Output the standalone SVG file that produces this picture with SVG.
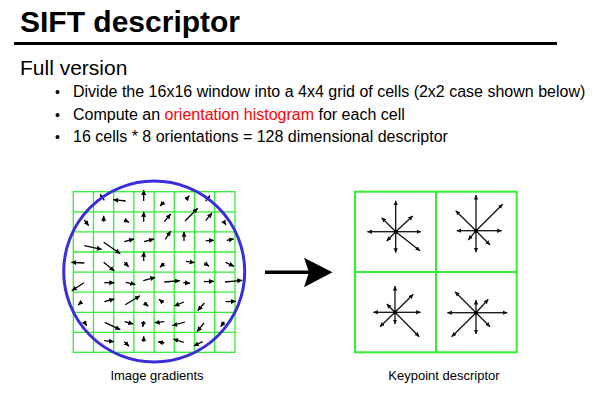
<svg xmlns="http://www.w3.org/2000/svg" width="597" height="403" viewBox="0 0 597 403">
<style>
.t{font-family:"Liberation Sans",Arial,sans-serif;fill:#000}
.g{stroke:#33ee33;fill:none}
.a{stroke:#000;stroke-width:1.3;fill:none;marker-end:url(#h)}
.d{stroke:#111;stroke-width:1.3;fill:none;marker-end:url(#h2)}
</style>
<defs>
<marker id="h" markerUnits="userSpaceOnUse" markerWidth="6" markerHeight="6" refX="5" refY="2.5" orient="auto"><path d="M0,0 L5,2.5 L0,5 z" fill="#000"/></marker>
<marker id="h2" markerUnits="userSpaceOnUse" markerWidth="6" markerHeight="6" refX="4.5" refY="2.25" orient="auto"><path d="M0,0 L4.5,2.25 L0,4.5 z" fill="#111"/></marker>
</defs>
<g id="title">
<text class="t" x="20" y="32" font-size="30" font-weight="bold">SIFT descriptor</text>
<line x1="14" y1="43.5" x2="557" y2="43.5" stroke="#000" stroke-width="3"/>
</g>
<g id="body">
<text class="t" x="20" y="75" font-size="21">Full version</text>
<text class="t" x="55" y="97" font-size="14">•</text>
<text class="t" x="73" y="97" font-size="16">Divide the 16x16 window into a 4x4 grid of cells (2x2 case shown below)</text>
<text class="t" x="55" y="120" font-size="14">•</text>
<text class="t" x="73" y="120" font-size="16">Compute an <tspan fill="#ff0000">orientation histogram</tspan> for each cell</text>
<text class="t" x="55" y="142" font-size="14">•</text>
<text class="t" x="73" y="142" font-size="16">16 cells * 8 orientations = 128 dimensional descriptor</text>
</g>
<g id="gradients">
<g class="g" stroke-width="1.3">
<rect x="73.3" y="191.7" width="161.7" height="160.6"/>
<path d="M93.5,191.7V352.3M113.7,191.7V352.3M133.9,191.7V352.3M154.1,191.7V352.3M174.3,191.7V352.3M194.5,191.7V352.3M214.7,191.7V352.3"/>
<path d="M73.3,211.8H235M73.3,231.9H235M73.3,252H235M73.3,272.1H235M73.3,292.2H235M73.3,312.3H235M73.3,332.3H235"/>
</g>
<g>
<path class="a" d="M104.3,200.3L100,194.3"/>
<path class="a" d="M125.7,201L113.3,199.7"/>
<path class="a" d="M143.7,201L143.7,190"/>
<path class="a" d="M164,201.7L160,206"/>
<path class="a" d="M186,199.7L189.3,195.7"/>
<path class="a" d="M205.7,201L210,195.7"/>
<path class="a" d="M84.3,220L88.7,225.7"/>
<path class="a" d="M103.7,221.7L103.7,215.7"/>
<path class="a" d="M124.3,220L129,222.3"/>
<path class="a" d="M143.7,221.7L143.7,211.7"/>
<path class="a" d="M164.3,221.7L170.7,214"/>
<path class="a" d="M185,221L197.7,208.3"/>
<path class="a" d="M205.7,220.7L212,213"/>
<path class="a" d="M223.3,221L226,225"/>
<path class="a" d="M84.3,245.7L101.7,249.3"/>
<path class="a" d="M103.7,242.3L120.3,253.7"/>
<path class="a" d="M124.3,241.7L134,239"/>
<path class="a" d="M144,241.7L154,239"/>
<path class="a" d="M165.3,239.3L170.7,231"/>
<path class="a" d="M184,241L184,231.7"/>
<path class="a" d="M205.7,240.7L214,240.3"/>
<path class="a" d="M226.7,240.3L233.7,239"/>
<path class="a" d="M84.3,263L71.3,262.3"/>
<path class="a" d="M103.7,262.3L114.3,271"/>
<path class="a" d="M124.3,262.3L128.7,266.7"/>
<path class="a" d="M143.7,261L143.7,251.7"/>
<path class="a" d="M164.3,263.3L160,267.3"/>
<path class="a" d="M186,261.3L194.7,262.7"/>
<path class="a" d="M204.3,262.7L209,266.3"/>
<path class="a" d="M225.7,262.3L234,266.3"/>
<path class="a" d="M84,282.7L71.7,290.7"/>
<path class="a" d="M104.3,282.7L114.3,282.7"/>
<path class="a" d="M125.7,282.3L135.3,284.3"/>
<path class="a" d="M143.3,280.7L155.3,277.3"/>
<path class="a" d="M164.3,282L180,280.7"/>
<path class="a" d="M183.3,282.7L190,283.3"/>
<path class="a" d="M204,281.7L214,281.3"/>
<path class="a" d="M225,282L242.3,280.3"/>
<path class="a" d="M82,301.7L78,305"/>
<path class="a" d="M104.3,301.7L114.3,299"/>
<path class="a" d="M125.3,304.7L140,295.7"/>
<path class="a" d="M144,302.7L148.3,306.3"/>
<path class="a" d="M163.3,302.7L159,299.3"/>
<path class="a" d="M184,302L174.3,306"/>
<path class="a" d="M204.3,303L197.7,310.7"/>
<path class="a" d="M225.7,301.7L236,301.3"/>
<path class="a" d="M84.3,322L86.7,325.7"/>
<path class="a" d="M104.7,322.3L120.3,329.7"/>
<path class="a" d="M124.7,321.7L133.3,324"/>
<path class="a" d="M143.7,321L142.7,327"/>
<path class="a" d="M164.3,321.7L154.7,322.7"/>
<path class="a" d="M185,322L172.3,325.7"/>
<path class="a" d="M204,323L197,331.7"/>
<path class="a" d="M224.3,321.7L220.7,326.7"/>
<path class="a" d="M104.3,340.7L114,341.7"/>
<path class="a" d="M124.3,341.7L129,346.3"/>
<path class="a" d="M143.7,341.7L143.7,336.3"/>
<path class="a" d="M164.3,343L158,341.7"/>
<path class="a" d="M183.7,342.3L173.3,339"/>
<path class="a" d="M202.7,341.7L193.7,346"/>
</g>
<circle cx="154.2" cy="271.5" r="90.5" fill="none" stroke="#3a2fd6" stroke-width="3"/>
<text class="t" x="157" y="380" font-size="13" text-anchor="middle">Image gradients</text>
</g>
<g id="connectors">
<line x1="265" y1="272.3" x2="310" y2="272.3" stroke="#000" stroke-width="3.5"/>
<path d="M332.5,272.3L304,257.7L309,272.3L304,287.3z" fill="#000"/>
</g>
<g id="descriptor">
<g class="g" stroke-width="2">
<rect x="355" y="191.7" width="161.7" height="160.6"/>
<path d="M436,191.7V352.3M355,272H516.7"/>
</g>
<g>
<path class="d" d="M395.7,231.7L395.7,200.7"/>
<path class="d" d="M395.7,231.7L395.7,252.7"/>
<path class="d" d="M395.7,231.7L367.3,231.7"/>
<path class="d" d="M395.7,231.7L421,231.7"/>
<path class="d" d="M395.7,231.7L412.7,216"/>
<path class="d" d="M395.7,231.7L381.7,217.7"/>
<path class="d" d="M395.7,231.7L386.7,241"/>
<path class="d" d="M395.7,231.7L420,250.7"/>
<circle cx="395.7" cy="231.7" r="2"/>
<path class="d" d="M476,230.7L476,195"/>
<path class="d" d="M476,230.7L476,252.3"/>
<path class="d" d="M476,230.7L456.7,230.7"/>
<path class="d" d="M476,230.7L501.7,230.7"/>
<path class="d" d="M476,230.7L502.7,204.3"/>
<path class="d" d="M476,230.7L455.7,210.7"/>
<path class="d" d="M476,230.7L468.3,240"/>
<path class="d" d="M476,230.7L490,245"/>
<circle cx="476" cy="230.7" r="2"/>
<path class="d" d="M395,312.3L395,286"/>
<path class="d" d="M395,312.3L395,324"/>
<path class="d" d="M395,312.3L373.3,312.3"/>
<path class="d" d="M395,312.3L420.7,312.3"/>
<path class="d" d="M395,312.3L413.3,294.3"/>
<path class="d" d="M395,312.3L386.7,304"/>
<path class="d" d="M395,312.3L380,326.7"/>
<path class="d" d="M395,312.3L419.3,336.7"/>
<circle cx="395" cy="312.3" r="2"/>
<path class="d" d="M476,312.7L476,300"/>
<path class="d" d="M476,312.7L476,334"/>
<path class="d" d="M476,312.7L447.3,312.7"/>
<path class="d" d="M476,312.7L507.3,312.7"/>
<path class="d" d="M476,312.7L488.3,299.3"/>
<path class="d" d="M476,312.7L455,291.7"/>
<path class="d" d="M476,312.7L451.7,336.7"/>
<path class="d" d="M476,312.7L490,326.7"/>
<circle cx="476" cy="312.7" r="2"/>
</g>
<text class="t" x="444" y="380" font-size="13" text-anchor="middle">Keypoint descriptor</text>
</g>
</svg>
